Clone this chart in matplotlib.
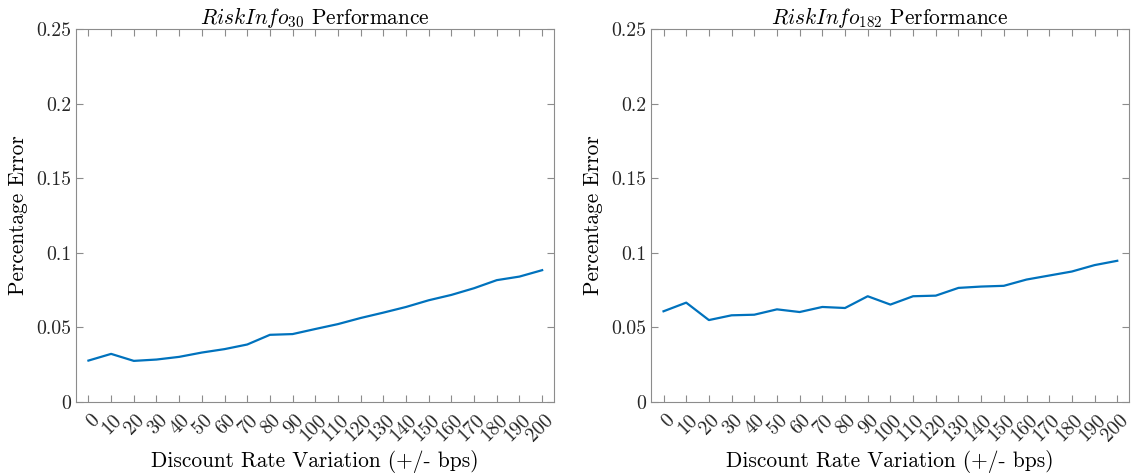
import numpy as np
import matplotlib
matplotlib.use("Agg")
import matplotlib.pyplot as plt
import matplotlib.transforms as mtransforms

plt.rcParams["font.family"] = "cmr10"
plt.rcParams["mathtext.fontset"] = "cm"
plt.rcParams["axes.unicode_minus"] = False

bps = [0, 10, 20, 30, 40, 50, 60, 70, 80, 90, 100,
       110, 120, 130, 140, 150, 160, 170, 180, 190, 200]

err_30 = [0.0276, 0.0321, 0.0274, 0.0283, 0.0301, 0.0330, 0.0353, 0.0384,
          0.0449, 0.0454, 0.0488, 0.0521, 0.0562, 0.0598, 0.0636, 0.0681,
          0.0717, 0.0762, 0.0816, 0.0840, 0.0883]

err_182 = [0.0607, 0.0665, 0.0548, 0.0580, 0.0584, 0.0620, 0.0602, 0.0636,
           0.0629, 0.0708, 0.0652, 0.0708, 0.0712, 0.0764, 0.0773, 0.0778,
           0.0820, 0.0847, 0.0874, 0.0917, 0.0946]

y_ticks = [0, 0.05, 0.1, 0.15, 0.2, 0.25]
y_tick_labels = ["0", "0.05", "0.1", "0.15", "0.2", "0.25"]

titles = [r"$RiskInfo_{30}$ Performance", r"$RiskInfo_{182}$ Performance"]

fig = plt.figure(figsize=(11.37, 4.76), dpi=100)
axes = [fig.add_axes([0.0668, 0.1561, 0.4204, 0.7823]),
        fig.add_axes([0.5726, 0.1561, 0.4204, 0.7823])]

tick_fs = 14.3
label_fs = 15.4

for ax, vals, title in zip(axes, [err_30, err_182], titles):
    ax.plot(bps, vals, color="#0072BD", linewidth=1.6)
    ax.set_xlim(-5.5, 205.2)
    ax.set_ylim(0, 0.25)
    ax.set_xticks(bps)
    ax.set_xticklabels([])
    # rotated labels, placed by hand like MATLAB does
    shift = mtransforms.ScaledTranslation(0.08, -0.155, fig.dpi_scale_trans)
    for b in bps:
        ax.text(b, 0, str(b), transform=ax.get_xaxis_transform() + shift,
                rotation=45, ha="right", va="center", rotation_mode="anchor",
                fontsize=tick_fs, color="#262626")
    ax.set_yticks(y_ticks)
    ax.set_yticklabels(y_tick_labels, fontsize=tick_fs, color="#262626")
    ax.tick_params(direction="in", top=True, right=True, length=5,
                   width=0.8, color="#8c8c8c")
    for sp in ax.spines.values():
        sp.set_color("#8c8c8c")
        sp.set_linewidth(0.8)
    ax.set_title(title, fontsize=label_fs, pad=4)
    ax.set_xlabel("Discount Rate Variation (+/- bps)", fontsize=label_fs,
                  labelpad=31)
    ax.set_ylabel("Percentage Error", fontsize=label_fs, labelpad=6)

fig.savefig("out.png", dpi=100)
